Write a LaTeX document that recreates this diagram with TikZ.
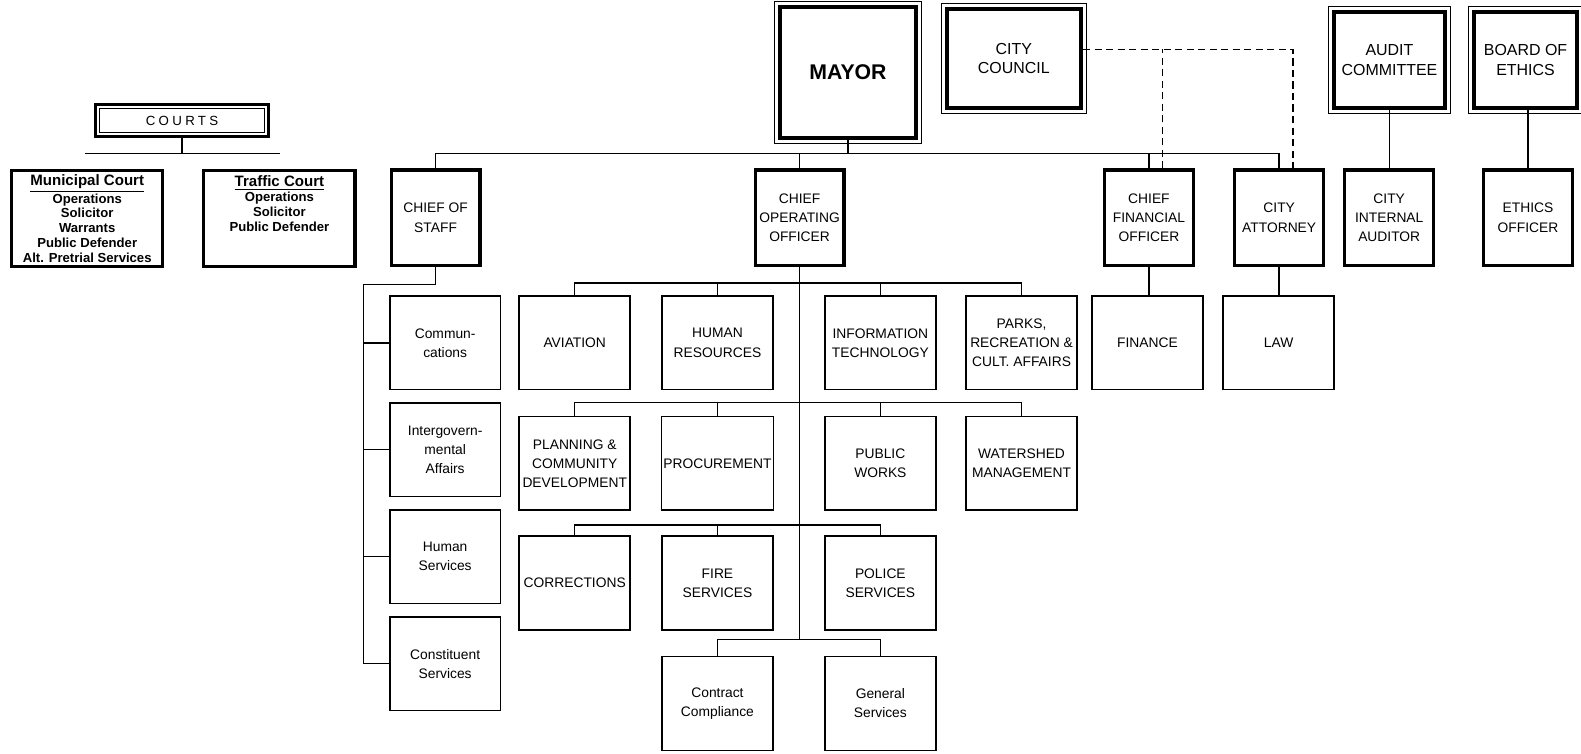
\documentclass[tikz,border=0pt]{standalone}
\usepackage{fontspec}
\setmainfont{Liberation Sans}
\usetikzlibrary{positioning}

\begin{document}
\begin{tikzpicture}[x=0.02cm, y=-0.02cm, node distance=0.5cm,
    unit/.style={rectangle, draw, line width=0.9pt, minimum width=2.2cm, minimum height=1.86cm, inner sep=1pt, align=center, font=\fontsize{7.8}{10.8}\selectfont},
    office/.style={rectangle, draw, line width=1.8pt, minimum width=1.76cm, minimum height=1.9cm, inner sep=1pt, align=center, font=\fontsize{7.8}{10.8}\selectfont},
    body/.style={rectangle, draw, line width=2.4pt, inner sep=1pt, align=center, font=\fontsize{9}{11}\selectfont},
    court/.style={rectangle, draw, line width=1.8pt, minimum width=3cm, minimum height=1.9cm, inner sep=1pt, align=center, font=\fontsize{7.4}{8.3}\selectfont\bfseries},
    link/.style={line width=0.8pt},
    tie/.style={line width=0.9pt, dash pattern=on 4pt off 2.5pt}]
    \useasboundingbox (0,0) rectangle (1568,747);

    % courts
    \node[rectangle, draw, line width=1.6pt, minimum width=3.44cm, minimum height=0.62cm, font=\fontsize{7.5}{9}\selectfont\addfontfeature{LetterSpace=25}] (courts) at (180.5,119.5) {COURTS};
    \draw[line width=0.5pt] ([shift={(3pt,-3pt)}]courts.north west) rectangle ([shift={(-3pt,3pt)}]courts.south east);
    \node[court] (municipal) at (86.5,216.5) {{\fontsize{8.5}{9}\selectfont\underline{Municipal Court}}\\Operations\\Solicitor\\Warrants\\Public Defender\\Alt. Pretrial Services};
    \node[court, right=0.75cm of municipal] (traffic) {{\fontsize{8.5}{9}\selectfont\underline{Traffic Court}}\\Operations\\Solicitor\\Public Defender\\ \mbox{}\\ \mbox{}};
    \path ([yshift=-0.32cm]courts.south) coordinate (k0);
    \draw[link] (courts.south) -- (k0);
    \draw[link] ([xshift=-1.92cm]k0) -- ([xshift=1.94cm]k0);

    % top bodies
    \node[body, minimum width=2.7cm, minimum height=2.6cm, font=\fontsize{12}{14}\selectfont\bfseries] (mayor) at (841,72) {MAYOR};
    \node[body, minimum width=2.66cm, minimum height=1.96cm] (council) at (1005.5,58) {CITY\\COUNCIL};
    \node[body, minimum width=2.2cm, minimum height=1.9cm] (audit) at (1378,59.5) {AUDIT\\COMMITTEE};
    \node[body, minimum width=2.04cm, minimum height=1.9cm] (board) at (1513,59.5) {BOARD OF\\ETHICS};
    \foreach \n in {mayor,council,audit,board}
        \draw[line width=0.5pt] ([shift={(-2pt,2pt)}]\n.north west) rectangle ([shift={(2pt,-2pt)}]\n.south east);

    % offices
    \node[office] (cos) at (432,216) {CHIEF OF\\STAFF};
    \node[office] (coo) at (793,216) {CHIEF\\OPERATING\\OFFICER};
    \node[office] (cfo) at (1139.5,216) {CHIEF\\FINANCIAL\\OFFICER};
    \node[office, right=0.76cm of cfo] (attorney) {CITY\\ATTORNEY};
    \node[office, right=0.36cm of attorney] (auditor) {CITY\\INTERNAL\\AUDITOR};
    \node[office, right=0.93cm of auditor] (ethicsoff) {ETHICS\\OFFICER};

    % chief of staff
    \node[unit] (comms) at (441.5,340) {Commun-\\cations};
    \node[unit, below=0.23cm of comms] (intergov) {Intergovern-\\mental\\Affairs};
    \node[unit, below=0.23cm of intergov] (humsvc) {Human\\Services};
    \node[unit, below=0.23cm of humsvc] (constituent) {Constituent\\Services};

    % chief operating officer
    \node[unit] (aviation) at (570,340) {AVIATION};
    \node[unit, right=0.6cm of aviation] (hr) {HUMAN\\RESOURCES};
    \node[unit, right=1cm of hr] (it) {INFORMATION\\TECHNOLOGY};
    \node[unit, right=0.57cm of it] (parks) {PARKS,\\RECREATION \&\\CULT. AFFAIRS};
    \node[unit, below=0.5cm of aviation] (planning) {PLANNING \&\\COMMUNITY\\DEVELOPMENT};
    \node[unit, below=0.5cm of hr] (procurement) {PROCUREMENT};
    \node[unit, below=0.5cm of it] (works) {PUBLIC\\WORKS};
    \node[unit, below=0.5cm of parks] (watershed) {WATERSHED\\MANAGEMENT};
    \node[unit, below=0.48cm of planning] (corrections) {CORRECTIONS};
    \node[unit, below=0.48cm of procurement] (fire) {FIRE\\SERVICES};
    \node[unit, below=0.48cm of works] (police) {POLICE\\SERVICES};
    \node[unit, below=0.5cm of fire] (contract) {Contract\\Compliance};
    \node[unit, below=0.5cm of police] (general) {General\\Services};

    % chief financial officer and city attorney
    \node[unit] (finance) at (1138,340) {FINANCE};
    \node[unit, right=0.37cm of finance] (law) {LAW};

    % mayor's line
    \path ([yshift=-0.26cm]mayor.south) coordinate (m0);
    \draw[link] (mayor.south) -- (m0);
    \draw[link] (cos.north) |- (m0) -| (attorney.north);
    \foreach \n in {coo,cfo}
        \draw[link] (\n.north) -- (\n.north |- m0);

    % council ties
    \path ([yshift=0.18cm]council.east) coordinate (c0);
    \path ([xshift=0.27cm]cfo.north) coordinate (t1);
    \draw[tie] (c0) -| ([xshift=0.27cm]attorney.north);
    \draw[tie] (t1) -- (t1 |- c0);

    \draw[link] (auditor.north) -- (auditor.north |- audit.south);
    \draw[link] (ethicsoff.north) -- (ethicsoff.north |- board.south);
    \draw[link] (cfo.south) -- (finance.north -| cfo.south);
    \draw[link] (attorney.south) -- (law.north -| attorney.south);

    % chief of staff branch
    \path ([yshift=-0.34cm]cos.south) coordinate (s0);
    \draw[link] (cos.south) -- (s0) -| ([xshift=-0.5cm]constituent.west);
    \foreach \n in {comms,intergov,humsvc,constituent}
        \draw[link] (\n.west) -- ++(-0.5cm,0);

    % chief operating officer branch
    \path ([yshift=0.24cm]aviation.north) coordinate (b1);
    \path ([yshift=0.26cm]planning.north) coordinate (b2);
    \path ([yshift=0.2cm]corrections.north) coordinate (b3);
    \path ([yshift=0.32cm]contract.north) coordinate (b4);
    \draw[link] (coo.south) -- (coo.south |- b4);
    \draw[link] (aviation.north) -- (b1) -| (parks.north);
    \draw[link] (planning.north) -- (b2) -| (watershed.north);
    \draw[link] (corrections.north) -- (b3) -| (police.north);
    \draw[link] (contract.north) -- (b4) -| (general.north);
    \foreach \n/\b in {hr/b1,it/b1,procurement/b2,works/b2,fire/b3}
        \draw[link] (\n.north) -- (\n.north |- \b);

\end{tikzpicture}
\end{document}
